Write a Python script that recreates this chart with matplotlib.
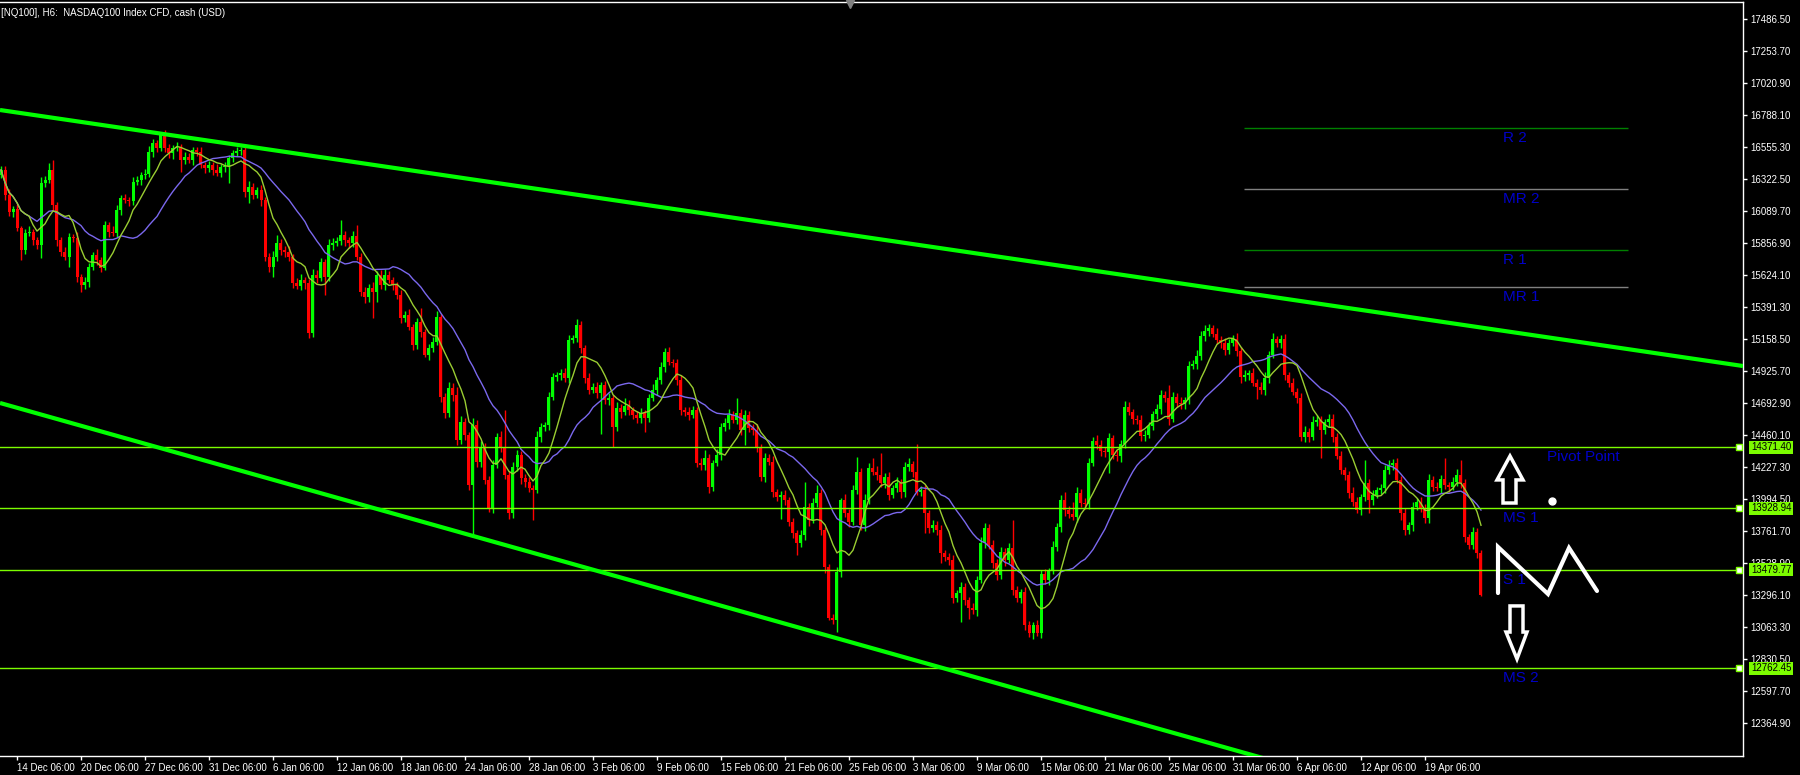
import numpy as np
import pandas as pd
import matplotlib
matplotlib.use('Agg')
import matplotlib.pyplot as plt
import matplotlib.transforms as mtransforms
from matplotlib.patches import Polygon

plt.rcParams['font.family'] = ['Liberation Sans', 'DejaVu Sans']

TITLE = "[NQ100], H6:  NASDAQ100 Index CFD, cash (USD)"

# H6 closes (first bar is 4 bars before "14 Dec 06:00")
first_open = 16353
closes = [
    16390, 16208, 16084, 16106, 15968, 15808, 15931, 15939, 15880, 15844,
    16295, 16317, 16390, 16135, 15880, 15793, 15757, 15902, 15895, 15611,
    15553, 15575, 15684, 15771, 15735, 15677, 15989, 15939, 15931, 16099,
    16186, 16171, 16164, 16302, 16317, 16353, 16361, 16521, 16586, 16550,
    16659, 16550, 16513, 16550, 16557, 16462, 16484, 16462, 16535, 16521,
    16426, 16404, 16426, 16390, 16368, 16412, 16419, 16477, 16513, 16528,
    16535, 16230, 16266, 16208, 16244, 16171, 15757, 15684, 15757, 15858,
    15808, 15793, 15757, 15567, 15545, 15589, 15567, 15203, 15626, 15604,
    15720, 15611, 15844, 15858, 15873, 15917, 15880, 15858, 15909, 15757,
    15502, 15465, 15531, 15502, 15626, 15553, 15626, 15589, 15553, 15480,
    15313, 15335, 15247, 15116, 15284, 15211, 15043, 15094, 15138, 15320,
    14738, 14621, 14803, 14752, 14425, 14556, 14461, 14097, 14534, 14265,
    14374, 14134, 13930, 14243, 14447, 14374, 14170, 13893, 14228, 14316,
    14148, 14119, 14075, 14061, 14447, 14519, 14534, 14738, 14883, 14898,
    14912, 14876, 15152, 15167, 15262, 15094, 14876, 14789, 14810, 14767,
    14825, 14716, 14730, 14519, 14658, 14628, 14672, 14643, 14607, 14585,
    14621, 14585, 14730, 14789, 14861, 14956, 15065, 14992, 14985, 14861,
    14643, 14628, 14607, 14643, 14257, 14243, 14294, 14083, 14257, 14316,
    14519, 14548, 14607, 14570, 14621, 14498, 14607, 14512, 14498, 14374,
    14156, 14294, 14265, 14046, 14010, 14024, 13988, 13828, 13748, 13675,
    13733, 13937, 13842, 13966, 14039, 13770, 13500, 13129, 13115, 13464,
    13988, 13893, 13828, 14061, 14192, 13806, 13988, 14221, 14192, 14170,
    14112, 14156, 14024, 14075, 14112, 14046, 14228, 14250, 14192, 14046,
    14061, 13893, 13784, 13806, 13770, 13602, 13573, 13551, 13275, 13311,
    13355, 13260, 13202, 13187, 13406, 13675, 13784, 13660, 13530, 13442,
    13609, 13551, 13639, 13333, 13275, 13318, 13078, 13020, 13078, 13020,
    13449, 13406, 13471, 13646, 13791, 13988, 13915, 13886, 13864, 14039,
    13966, 13959, 14257, 14417, 14388, 14345, 14337, 14439, 14316, 14308,
    14396, 14665, 14628, 14577, 14570, 14454, 14461, 14527, 14614, 14650,
    14752, 14730, 14577, 14738, 14694, 14687, 14716, 14963, 14978, 15036,
    15182, 15218, 15240, 15196, 15152, 15131, 15080, 15131, 15160, 15072,
    14883, 14898, 14912, 14839, 14810, 14789, 14876, 15043, 15160, 15131,
    15160, 14898, 14839, 14774, 14730, 14447, 14483, 14447, 14556, 14570,
    14498, 14556, 14577, 14447, 14308, 14206, 14170, 14039, 13973, 13915,
    14010, 14112, 13988, 14024, 14061, 14075, 14206, 14243, 14257, 14134,
    13893, 13770, 13806, 13937, 13973, 13930, 13857, 14134, 14083, 14075,
    14141, 14097, 14083, 14119, 14170, 14112, 13719, 13660, 13755, 13602,
    13296,
]
# wick lengths above / below the body, in index points
up_wick = [
    30, 25, 40, 20, 35, 15, 30, 45, 20, 25,
    40, 30, 50, 73, 25, 20, 35, 30, 25, 40,
    20, 35, 30, 25, 45, 20, 30, 25, 40, 35,
    25, 30, 20, 40, 30, 25, 35, 45, 30, 20,
    5, 25, 30, 20, 35, 25, 40, 30, 20, 25,
    35, 20, 30, 25, 40, 20, 30, 25, 20, 30,
    25, 22, 40, 30, 25, 35, 20, 30, 45, 60,
    30, 25, 40, 20, 35, 45, 25, 30, 40, 35,
    30, 25, 45, 35, 30, 109, 30, 25, 40, 80,
    25, 35, 30, 40, 25, 35, 45, 30, 25, 20,
    35, 30, 40, 25, 30, 100, 20, 30, 35, 40,
    25, 30, 45, 35, 60, 40, 30, 25, 50, 35,
    40, 30, 25, 35, 30, 45, 270, 30, 40, 35,
    25, 30, 35, 20, 40, 30, 25, 35, 30, 25,
    30, 35, 40, 25, 45, 30, 25, 35, 30, 40,
    25, 30, 35, 20, 40, 30, 60, 45, 25, 30,
    35, 25, 30, 40, 25, 35, 30, 40, 25, 30,
    35, 25, 40, 30, 25, 35, 60, 30, 25, 40,
    30, 35, 40, 25, 110, 30, 35, 25, 30, 40,
    25, 35, 30, 40, 25, 30, 35, 25, 30, 20,
    40, 180, 30, 35, 60, 30, 25, 20, 30, 35,
    15, 45, 30, 35, 110, 30, 40, 35, 73, 40,
    160, 30, 35, 25, 40, 30, 35, 40, 25, 204,
    30, 35, 25, 40, 30, 35, 25, 30, 40, 25,
    35, 30, 25, 40, 30, 45, 36, 30, 35, 25,
    40, 30, 35, 204, 30, 25, 35, 30, 25, 40,
    30, 35, 25, 40, 30, 35, 60, 30, 90, 40,
    30, 35, 40, 30, 45, 35, 30, 40, 25, 35,
    30, 40, 35, 25, 30, 35, 40, 30, 25, 35,
    40, 30, 95, 35, 30, 40, 25, 35, 30, 40,
    35, 45, 30, 25, 40, 30, 35, 25, 30, 40,
    30, 35, 25, 40, 30, 35, 45, 30, 40, 25,
    30, 35, 25, 40, 30, 35, 40, 30, 45, 35,
    30, 25, 35, 40, 30, 35, 25, 30, 40, 35,
    25, 167, 30, 35, 25, 30, 40, 35, 30, 40,
    30, 35, 25, 40, 30, 35, 30, 40, 25, 35,
    30, 153, 25, 35, 40, 109, 30, 25, 35, 30,
    20,
]
dn_wick = [
    25, 35, 30, 40, 25, 73, 30, 20, 35, 30,
    95, 30, 25, 35, 40, 30, 25, 73, 30, 35,
    51, 30, 40, 25, 35, 30, 15, 40, 25, 30,
    35, 25, 40, 30, 25, 35, 30, 20, 35, 30,
    25, 30, 35, 40, 25, 87, 30, 25, 35, 30,
    25, 35, 30, 40, 25, 30, 35, 124, 30, 25,
    30, 35, 80, 30, 25, 40, 30, 35, 73, 30,
    35, 40, 30, 36, 25, 30, 40, 36, 30, 35,
    25, 130, 30, 35, 25, 30, 40, 35, 30, 25,
    30, 40, 35, 190, 73, 30, 35, 25, 40, 30,
    35, 30, 25, 40, 30, 35, 15, 36, 30, 25,
    40, 35, 30, 45, 35, 30, 40, 35, 378, 40,
    35, 30, 30, 40, 25, 35, 30, 40, 35, 30,
    40, 35, 30, 218, 25, 35, 30, 40, 25, 30,
    35, 30, 40, 25, 30, 35, 40, 30, 25, 35,
    298, 30, 35, 146, 30, 40, 25, 35, 30, 40,
    35, 100, 30, 25, 35, 30, 40, 25, 30, 35,
    40, 30, 35, 25, 30, 40, 35, 44, 30, 25,
    35, 30, 40, 25, 30, 35, 109, 30, 40, 35,
    30, 40, 25, 35, 30, 160, 35, 30, 40, 87,
    30, 35, 40, 25, 30, 35, 40, 15, 30, 87,
    35, 30, 40, 25, 30, 35, 40, 30, 25, 35,
    30, 40, 35, 25, 30, 40, 35, 30, 40, 25,
    30, 145, 35, 30, 40, 73, 30, 35, 40, 30,
    211, 35, 80, 30, 40, 25, 35, 30, 40, 35,
    30, 40, 25, 35, 30, 40, 35, 30, 40, 25,
    35, 30, 40, 25, 30, 35, 40, 30, 25, 35,
    30, 40, 35, 25, 30, 40, 35, 153, 30, 35,
    40, 30, 25, 35, 30, 40, 35, 25, 30, 40,
    35, 30, 40, 25, 30, 35, 40, 30, 25, 35,
    30, 40, 35, 25, 30, 35, 40, 30, 25, 35,
    40, 30, 35, 25, 87, 30, 40, 35, 25, 30,
    35, 40, 30, 25, 35, 30, 40, 35, 25, 30,
    204, 30, 35, 40, 25, 30, 35, 40, 30, 25,
    35, 30, 95, 40, 25, 30, 35, 30, 40, 25,
    51, 35, 30, 40, 25, 30, 35, 40, 30, 25,
    35, 30, 40, 25, 30, 35, 40, 30, 25, 35,
    10,
]

date_labels = ["14 Dec 06:00", "20 Dec 06:00", "27 Dec 06:00", "31 Dec 06:00",
               "6 Jan 06:00", "12 Jan 06:00", "18 Jan 06:00", "24 Jan 06:00",
               "28 Jan 06:00", "3 Feb 06:00", "9 Feb 06:00", "15 Feb 06:00",
               "21 Feb 06:00", "25 Feb 06:00", "3 Mar 06:00", "9 Mar 06:00",
               "15 Mar 06:00", "21 Mar 06:00", "25 Mar 06:00", "31 Mar 06:00",
               "6 Apr 06:00", "12 Apr 06:00", "19 Apr 06:00"]
bars_per_label = 16

price_ticks = [17486.5, 17253.7, 17020.9, 16788.1, 16555.3, 16322.5, 16089.7,
               15856.9, 15624.1, 15391.3, 15158.5, 14925.7, 14692.9, 14460.1,
               14227.3, 13994.5, 13761.7, 13528.9, 13296.1, 13063.3, 12830.5,
               12597.7, 12364.9]

# full width pivot lines (tagged on the price axis)
pivot_levels = [14371.40, 13928.94, 13479.77, 12762.45]
pivot_names = ["Pivot Point", "MS 1", "S 1", "MS 2"]
# short resistance lines
upper_levels = [16695, 16251, 15807, 15538]
upper_names = ["R 2", "MR 2", "R 1", "MR 1"]
upper_colors = ['#008000', '#808080', '#008000', '#808080']
short_line_span = (306.75, 402.75)

# channel trend lines (bar index, price)
upper_trend = ([-4.25, 431.5], [16826, 14963])
lower_trend = ([-4.25, 431.5], [14694, 11128])

# hand drawn marks (bar index, price)
up_arrow = [(373.25, 14308), (376.5, 14134), (374.75, 14134), (374.75, 13966),
            (371.5, 13966), (371.5, 14134), (370, 14134)]
down_arrow = [(373.25, 13217), (376.5, 13217), (376.5, 13027), (377.5, 13027),
              (375, 12831), (372.25, 13027), (373.25, 13027)]
zigzag_x = [370.25, 370.25, 382.75, 388, 395]
zigzag_y = [13311, 13646, 13304, 13639, 13326]
dot = (383.75, 13981)

FAST, SLOW = 8, 21
BULL, BEAR = '#00ff00', '#ff0000'
LEVEL = '#7cfc00'
FG = 'white'

closes = np.array(closes, dtype=float)
opens = np.r_[first_open, closes[:-1]]
highs = np.maximum(opens, closes) + np.array(up_wick)
lows = np.minimum(opens, closes) - np.array(dn_wick)
x = np.arange(len(closes)) - 4
colors = np.where(closes >= opens, BULL, BEAR)

ma_fast = pd.Series(closes).rolling(FAST, min_periods=1).mean()
ma_slow = pd.Series(closes).rolling(SLOW, min_periods=1).mean()

fig = plt.figure(figsize=(18, 7.75), dpi=100, facecolor='black')
ax = fig.add_axes([0, 19 / 775, 1743 / 1800, 754 / 775])
ax.set_facecolor('black')

# candles
ax.vlines(x, lows, highs, colors=colors, linewidth=1, zorder=2)
ax.bar(x, np.maximum(np.abs(closes - opens), 6), bottom=np.minimum(opens, closes),
       width=0.75, color=colors, linewidth=0, zorder=2)

ax.plot(x, ma_slow, color='#7b68ee', linewidth=1, zorder=3)
ax.plot(x, ma_fast, color='#9acd32', linewidth=1, zorder=3)

# pivot lines
ybl = mtransforms.blended_transform_factory(ax.transAxes, ax.transData)
for lvl in pivot_levels:
    ax.axhline(lvl, color=LEVEL, linewidth=1, zorder=4)
    ax.plot([0.9975], [lvl], marker='s', markersize=4, markerfacecolor='white',
            markeredgecolor=LEVEL, transform=ybl, clip_on=False, zorder=6)
    ax.text(1.0045, lvl, f"{lvl:.2f}", transform=ybl, ha='left', va='center',
            fontsize=7, color='black', zorder=7,
            bbox=dict(boxstyle='square,pad=0.15', facecolor=LEVEL, edgecolor='none'),
            clip_on=False)
for lvl, col in zip(upper_levels, upper_colors):
    ax.hlines(lvl, *short_line_span, color=col, linewidth=1, zorder=4)

label_x = {"Pivot Point": 382.5}
for name, lvl in zip(upper_names + pivot_names, upper_levels + pivot_levels):
    ax.annotate(name, (label_x.get(name, 371.5), lvl), xytext=(0, -2),
                textcoords='offset points', ha='left', va='top',
                fontsize=11, color='#0000c8', zorder=5)

# channel
ax.plot(*upper_trend, color=BULL, linewidth=3, zorder=4, solid_capstyle='butt')
ax.plot(*lower_trend, color=BULL, linewidth=3, zorder=4, solid_capstyle='butt')

# hand drawn marks
ax.add_patch(Polygon(up_arrow, closed=True, facecolor='black', edgecolor='white',
                     linewidth=2.5, zorder=6))
ax.add_patch(Polygon(down_arrow, closed=True, facecolor='black', edgecolor='white',
                     linewidth=2.5, zorder=6))
ax.plot(zigzag_x, zigzag_y, color='white', linewidth=3, zorder=6,
        solid_capstyle='round', solid_joinstyle='miter')
ax.plot(*dot, marker='o', markersize=5, color='white', zorder=6)

# top "shift" marker
ax.plot([0.4877], [0.998], marker='v', markersize=6, color='#808080',
        transform=ax.transAxes, clip_on=False, zorder=7)

ax.set_xlim(-4.25, 431.5)
ax.set_ylim(12125, 17612)

ax.yaxis.tick_right()
ax.set_yticks(price_ticks)
ax.set_yticklabels([f"{p:.2f}" for p in price_ticks])
ax.set_xticks(np.arange(len(date_labels)) * bars_per_label)
ax.set_xticklabels(date_labels, ha='left')
ax.tick_params(axis='both', colors=FG, labelcolor=FG, labelsize=7, length=3,
               width=1, direction='out')
ax.tick_params(axis='y', pad=2)
ax.tick_params(axis='x', pad=2)
for s in ['top', 'right', 'bottom']:
    ax.spines[s].set_color(FG)
    ax.spines[s].set_linewidth(1)
ax.spines['left'].set_visible(False)

fig.text(0.0005, 1 - 13 / 775, TITLE, color=FG, fontsize=7, ha='left', va='center')

fig.savefig('out.png', dpi=100, facecolor='black')
